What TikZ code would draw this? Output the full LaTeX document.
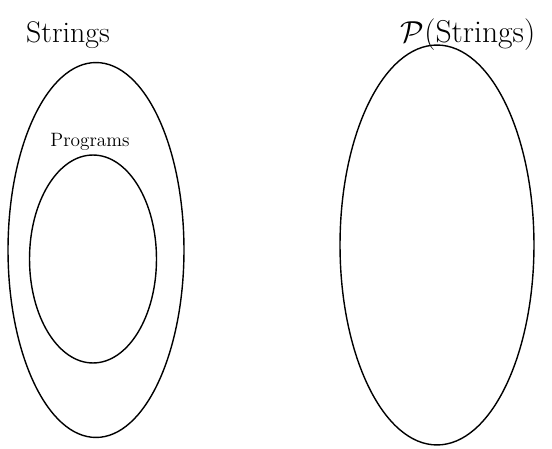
\documentclass[tikz,border=0pt]{standalone}
\usepackage{amsmath}
\usepackage{tikz}
\usetikzlibrary{shapes.geometric}
\tikzset{
  setbox/.style={draw, ellipse, line width=0.8pt, inner sep=0pt},
  setlabel/.style={inner sep=0pt}
}
\begin{document}
\begin{tikzpicture}[x=0.02cm, y=-0.02cm]
  \useasboundingbox (0,0) rectangle (552,449);
  % the two sets side by side
  \node[setbox, minimum width=3.52cm, minimum height=7.5cm] (strings) at (96,250) {};
  \node[setbox, minimum width=2.54cm, minimum height=4.16cm] (programs) at (93,259) {};
  \node[setbox, minimum width=3.88cm, minimum height=8cm] (powerset) at (437,245) {};
  % labels
  \node[setlabel, font=\fontsize{17}{20}\selectfont] (stringslbl) at (68,35) {Strings};
  \node[setlabel, font=\fontsize{11}{13}\selectfont] (programslbl) at (90,142) {Programs};
  \node[setlabel, font=\fontsize{18}{21}\selectfont] (powersetlbl) at (468,35) {$\mathcal{P}$(Strings)};
\end{tikzpicture}
\end{document}
